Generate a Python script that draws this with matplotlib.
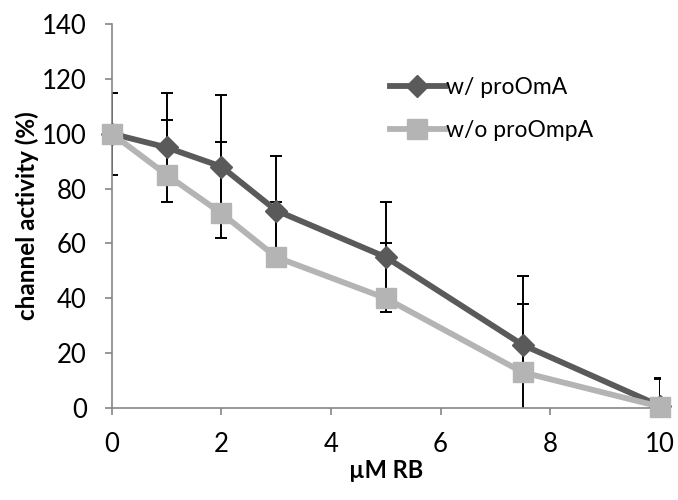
import matplotlib
matplotlib.use("Agg")
import matplotlib.pyplot as plt

conc = [0, 1, 2, 3, 5, 7.5, 10]
with_pro = [100, 95, 88, 72, 55, 23, 0.8]
without_pro = [100, 85, 71, 55, 40, 13, 0.5]
err = [15, 20, 26, 20, 20, 25, 10]
x_ticks = [0, 2, 4, 6, 8, 10]
y_ticks = [0, 20, 40, 60, 80, 100, 120, 140]

plt.rcParams['font.family'] = ['Lato', 'DejaVu Sans']

fig = plt.figure(figsize=(6.78, 5.0), dpi=100)
ax = fig.add_axes([0.165, 0.184, 0.808, 0.768])

dark = '#5a5a5a'
light = '#b4b4b4'

ax.errorbar(conc, with_pro, yerr=err, fmt='none', ecolor='black', elinewidth=1.4,
            capsize=4.5, capthick=1.4, zorder=2)
ax.errorbar(conc, without_pro, yerr=[[0]*len(err), err], fmt='none', ecolor='black',
            elinewidth=1.4, capsize=4.5, capthick=1.4, zorder=2)
ax.plot(conc, with_pro, color=dark, lw=4.2, marker='D', ms=11, label='w/ proOmA', zorder=3,
        clip_on=False)
ax.plot(conc, without_pro, color=light, lw=4.2, marker='s', ms=14, label='w/o proOmpA', zorder=4,
        clip_on=False)

ax.set_xlim(0, 10)
ax.set_ylim(0, 140)
ax.set_xticks(x_ticks)
ax.set_yticks(y_ticks)
for s in ['top', 'right']:
    ax.spines[s].set_visible(False)
for s in ['left', 'bottom']:
    ax.spines[s].set_color('#868686')
    ax.spines[s].set_linewidth(1.2)
ax.tick_params(axis='both', colors='#868686', labelcolor='black', labelsize=18.5, length=5,
               width=1.2, direction='out')
ax.tick_params(axis='x', pad=12)
ax.tick_params(axis='y', pad=13)

ax.set_xlabel('µM RB', fontsize=17, fontweight='bold', labelpad=2)
ax.set_ylabel('channel activity (%)', fontsize=17.5, fontweight='bold', labelpad=2)

leg = ax.legend(loc='upper left', bbox_to_anchor=(0.47, 0.915), frameon=False, fontsize=16.5,
                handlelength=2.4, handletextpad=0.05, labelspacing=0.95)

fig.savefig('out.png', dpi=100)
